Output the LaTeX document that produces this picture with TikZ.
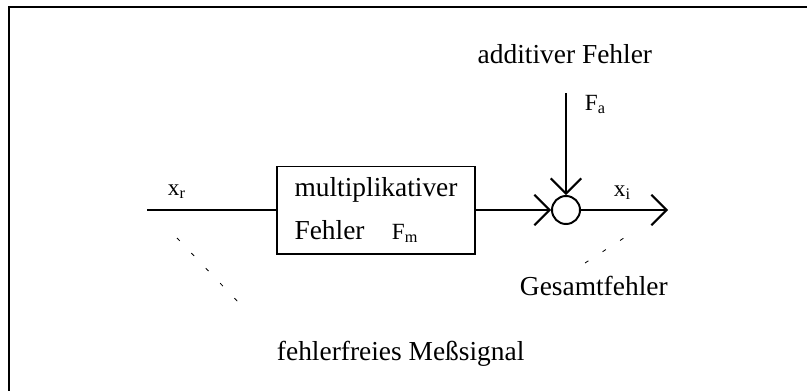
\documentclass[tikz,border=0pt]{standalone}
\usepackage{fontspec}
\setmainfont{Liberation Serif}
\usetikzlibrary{arrows.meta}

\newcommand\klein{\fontsize{16.5}{20}\selectfont}

\begin{document}
\begin{tikzpicture}[x=0.025cm,y=-0.025cm,
		signal/.style={line width=1.4pt},
		pfeil/.style={signal,-{Straight Barb[length=0.38cm,width=0.76cm]}},
		hinweis/.style={line width=0.6pt,dash pattern=on 0.1cm off 0.42cm},
		schrift/.style={font=\fontsize{19.5}{30.6}\selectfont},
		zeichen/.style={font=\klein}]
			\useasboundingbox (0,0) rectangle (807,390);
			\draw [signal](9,420) -- (9,7) -- (840,7);

			\node [draw,signal,schrift,align=left,minimum width=4.95cm,minimum height=2.175cm](mult) at (376,210) {multiplikativer\\Fehler\quad{\klein F\textsubscript{m}}};
			\node [draw,signal,circle,minimum size=0.7cm,inner sep=0pt](sum) at (566,210) {};
			\coordinate (xr) at (147,210);
			\coordinate (xi) at (668,210);
			\coordinate (fa) at (566,93);

			\draw [signal](xr) -- (mult.west);
			\draw [pfeil](mult.east) -- (sum.west);
			\draw [pfeil](fa) -- (sum.north);
			\draw [pfeil](sum.east) -- (xi);

			\node [zeichen,anchor=base west](lxr) at (163,195) {x\textsubscript{r}};
			\node [zeichen,anchor=base west](lxi) at (609,196) {x\textsubscript{i}};
			\node [zeichen,anchor=base west](lfa) at (580,110) {F\textsubscript{a}};

			\node [schrift,anchor=base east](add) at (657,63) {additiver Fehler};
			\node [schrift,anchor=base west](ges) at (515,295) {Gesamtfehler};
			\node [schrift,anchor=base west](frei) at (272,360) {fehlerfreies Meßsignal};

			\coordinate (h1a) at (177,238);
			\coordinate (h1b) at (240,304);
			\coordinate (h2a) at (585,263);
			\coordinate (h2b) at (627,236);
			\draw [hinweis](h1a) -- (h1b);
			\draw [hinweis](h2a) -- (h2b);

		\end{tikzpicture}
\end{document}
